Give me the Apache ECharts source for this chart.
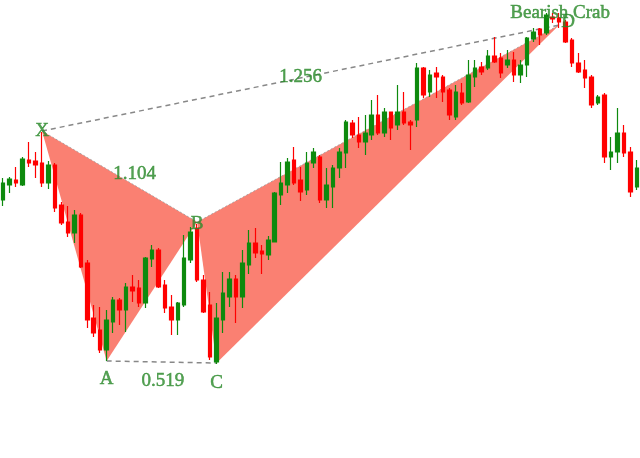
<!DOCTYPE html>
<html>
<head>
<meta charset="utf-8">
<script src="https://cdn.jsdelivr.net/npm/echarts@6/dist/echarts.min.js"></script>
<style>html,body{margin:0;padding:0;background:#fff}#c{width:640px;height:458px}</style>
</head>
<body>
<div id="c"></div>
<script>
// Candle values (price units), one entry per bar
var opens  = [258,273,278,273,298,297,295,275,293,253,236,225,243,195,140,128,108,136,158,148,171,170,155,199,208,173,151,138,153,198,230,178,153,96,138,161,179,161,193,215,207,203,216,263,273,298,278,268,295,301,258,271,290,305,335,323,316,323,343,325,346,333,346,336,338,390,366,385,381,368,341,365,356,381,391,390,402,400,393,398,383,393,419,429,425,441,440,436,418,395,388,381,355,363,301,306,325,306,271];
var closes = [275,279,275,299,295,293,275,293,250,235,225,243,191,138,125,108,138,158,148,171,167,155,200,208,171,150,138,155,200,226,178,146,101,140,165,179,161,195,215,205,204,218,265,275,296,275,266,295,306,258,273,290,306,336,323,316,325,343,325,346,330,346,335,333,390,363,383,381,366,343,366,355,383,390,386,402,396,385,398,383,393,420,426,423,443,439,436,416,395,386,380,353,361,301,306,325,305,266,290];
var lows   = [252,265,271,272,291,280,271,269,246,233,221,215,190,130,121,105,97,125,133,126,156,151,150,191,170,145,123,123,151,195,176,145,98,94,125,151,135,150,184,200,184,198,216,253,265,273,257,263,290,255,250,250,280,290,320,310,303,318,323,321,318,328,333,308,331,360,361,360,356,338,338,353,355,371,383,388,395,380,390,376,375,381,416,413,423,435,430,415,391,385,370,350,353,295,288,295,301,261,268];
var highs  = [280,281,291,301,316,306,326,297,295,256,252,248,245,198,153,151,148,161,160,175,183,178,201,213,210,178,163,156,223,231,234,183,166,155,186,186,183,208,228,230,213,222,266,296,300,311,291,306,310,303,290,293,310,338,338,341,343,358,363,350,346,373,366,338,395,391,388,391,383,370,373,375,398,398,396,408,421,405,408,406,398,421,430,430,445,445,445,438,420,405,398,383,363,365,321,350,333,311,298];

// Harmonic pattern points
var patNames  = ['X','A','B','C','D'];
var patIndex  = [6,16,30,33,86];
var patValues = [327,97,236,95,433];
var patternTitle = 'Bearish Crab';
var ratioLabels = ['1.104','0.519','1.256'];

var cats = opens.map(function(_, i){ return String(i); });
var candleData = opens.map(function(o, i){ return [o, closes[i], lows[i], highs[i]]; });
function P(k){ return [patIndex[k], patValues[k]]; }

var fill = '#fa8072';
var txt = '#2b8a2b';
var font = 'Liberation Serif';

var chart = echarts.init(document.getElementById('c'), null, {renderer:'canvas'});

var triangles = [[0,1,2],[2,3,4]];

var labelData = [
  {value:P(0), name:patNames[0], label:{offset:[0,0]}},
  {value:P(1), name:patNames[1], label:{offset:[0,18]}},
  {value:P(2), name:patNames[2], label:{offset:[0,2]}},
  {value:P(3), name:patNames[3], label:{offset:[0,20]}},
  {value:P(4), name:patNames[4], label:{offset:[9,-3]}},
  {value:P(4), name:patternTitle, label:{offset:[1,-12]}},
  {value:[(patIndex[0]+patIndex[2])/2, (patValues[0]+patValues[2])/2], name:ratioLabels[0], label:{offset:[15,-2]}},
  {value:[(patIndex[1]+patIndex[3])/2, (patValues[1]+patValues[3])/2], name:ratioLabels[1], label:{offset:[-2,19]}},
  {value:[(patIndex[0]+patIndex[4])/2, (patValues[0]+patValues[4])/2], name:ratioLabels[2], label:{offset:[0,-1]}}
];

chart.setOption({
  animation:false,
  backgroundColor:'#ffffff',
  grid:{left:0, top:0, width:645, height:458},
  xAxis:{type:'category', data:cats, boundaryGap:true, show:false},
  yAxis:{type:'value', min:0, max:458, show:false, splitLine:{show:false}},
  series:[
    {
      type:'custom', z:1, silent:true,
      data:[[0,0],[1,0]],
      renderItem:function(params, api){
        var t = triangles[params.dataIndex];
        var pts = t.map(function(k){ return api.coord(P(k)); });
        return {type:'polygon', shape:{points:pts}, style:{fill:fill, stroke:null}};
      }
    },
    {
      type:'line', z:2, symbol:'none', silent:true,
      data:[P(0), P(2)],
      lineStyle:{color:'#9a9a9a', width:1, type:[2,2], opacity:0.8}
    },
    {
      type:'line', z:2, symbol:'none', silent:true,
      data:[P(2), P(4)],
      lineStyle:{color:'#9a9a9a', width:1, type:[2,2], opacity:0.8}
    },
    {
      type:'line', z:2, symbol:'none', silent:true,
      data:[P(0), P(4)],
      lineStyle:{color:'#888888', width:1.5, type:[5,4]}
    },
    {
      type:'line', z:2, symbol:'none', silent:true,
      data:[P(1), P(3)],
      lineStyle:{color:'#888888', width:1.5, type:[5,4]}
    },
    {
      type:'candlestick', z:3, barWidth:4, silent:true,
      data:candleData,
      itemStyle:{color:'#0e8a0e', color0:'#ff0000', borderColor:'#0e8a0e', borderColor0:'#ff0000', borderWidth:1.2}
    },
    {
      type:'scatter', z:5, symbolSize:0, silent:true,
      data:labelData,
      label:{show:true, position:'inside', formatter:'{b}', color:txt, fontFamily:font, fontSize:19,
             textBorderColor:txt, textBorderWidth:0.5}
    }
  ]
});
</script>
</body>
</html>
